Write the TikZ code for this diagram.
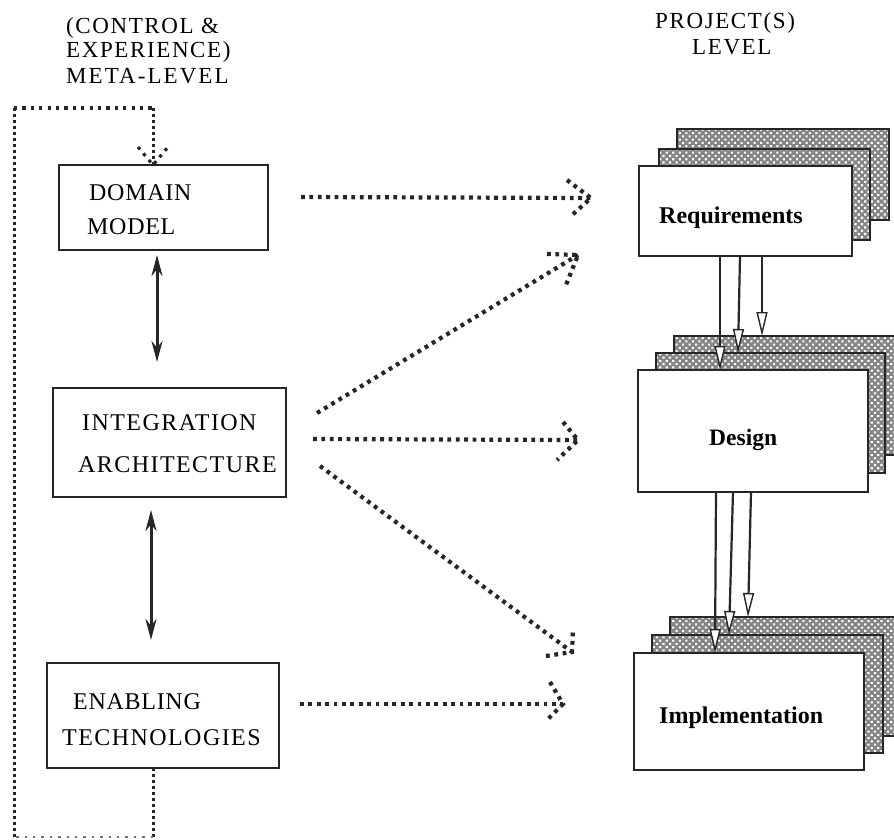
\documentclass[tikz,border=0pt]{standalone}
\usepackage{fontspec}
\setmainfont{Liberation Serif}
\usetikzlibrary{arrows.meta,patterns.meta,calc}
\tikzset{
  metabox/.style 2 args={draw=black!85,line width=1.8pt,fill=white,inner sep=0pt,outer sep=0pt,anchor=north west,minimum width=#1,minimum height=#2},
  sheet/.style 2 args={metabox={#1}{#2},preaction={fill=black!48},pattern={Dots[distance=4.6pt,radius=1.5pt,angle=45]},pattern color=white},
  front/.style 2 args={metabox={#1}{#2},line width=2pt},
  head/.style={inner sep=0pt,anchor=west,font=\fontsize{23}{25}\selectfont\addfontfeatures{LetterSpace=7}},
  boxtext/.style={inner sep=0pt,anchor=west,font=\fontsize{24}{26}\selectfont\addfontfeatures{LetterSpace=3}},
  boxwide/.style={inner sep=0pt,anchor=west,font=\fontsize{24}{26}\selectfont\addfontfeatures{LetterSpace=6}},
  sheettext/.style={inner sep=0pt,anchor=west,font=\fontsize{24}{26}\selectfont\bfseries},
  flow/.style={draw=black!85,line width=2.2pt,-{Triangle[open,fill=white,length=24pt,width=11pt,line width=1.4pt]}},
  dual/.style={draw=black!85,line width=3pt,{Stealth[length=21pt,width=11pt]}-{Stealth[length=21pt,width=11pt]}},
  dotline/.style={draw=black!85,line width=4.2pt,dash pattern=on 3.8pt off 4.6pt},
  loophoriz/.style={draw=black!85,line width=3.2pt,dash pattern=on 3.2pt off 5.2pt},
  loopvert/.style={draw=black!85,line width=3pt,dash pattern=on 3pt off 3pt},
  loopfaint/.style={draw=black!55,line width=2pt,dash pattern=on 2.5pt off 5.9pt}
}
\begin{document}
\begin{tikzpicture}[x=1pt,y=-1pt]
\clip (0,0) rectangle (894,839);
\fill[white] (0,0) rectangle (894,839);

% column headings
\node[head] (h1) at (66,28) {(CONTROL \&};
\node[head] (h2) at (66,52) {EXPERIENCE)};
\node[head,font=\fontsize{23}{25}\selectfont\addfontfeatures{LetterSpace=9}] (h3) at (66,76) {META-LEVEL};
\node[head] (h4) at (655,23) {PROJECT(S)};
\node[head] (h5) at (692,47) {LEVEL};

% meta-level boxes
\node[metabox={209pt}{85pt}] (dom) at (59,165) {};
\node[metabox={233pt}{109pt}] (int) at (53,388) {};
\node[metabox={232pt}{105pt}] (ena) at (47,663) {};
\node[boxtext] (t1) at (89,193) {DOMAIN};
\node[boxtext] (t2) at (87,227) {MODEL};
\node[boxwide] (t3) at (82,423) {INTEGRATION};
\node[boxwide] (t4) at (78,465) {ARCHITECTURE};
\node[boxtext] (t5) at (73,702) {ENABLING};
\node[boxwide] (t6) at (62,738) {TECHNOLOGIES};

% requirement sheets
\node[sheet={212pt}{91pt}] (rc) at (677,129) {};
\node[sheet={211pt}{91pt}] (rb) at (659,149) {};
\node[front={213pt}{90pt}] (ra) at (639,166) {};
\node[sheettext] (t7) at (659,218) {Requirements};
% design sheets
\node[sheet={240pt}{119pt}] (dc) at (674,336) {};
\node[sheet={229pt}{120pt}] (db) at (656,353) {};
\node[front={230pt}{122pt}] (da) at (638,370) {};
\node[sheettext,font=\fontsize{23.5}{26}\selectfont\bfseries] (t8) at (709,440) {Design};
% implementation sheets
\node[sheet={240pt}{119pt}] (ic) at (670,617) {};
\node[sheet={231pt}{118pt}] (ib) at (652,635) {};
\node[front={230pt}{117pt}] (ia) at (634,653) {};
\node[sheettext] (t9) at (659,718) {Implementation};

% solid flows between project levels
\draw[flow] ([xshift=81pt]ra.south west) -- ([xshift=82pt]da.north west);
\draw[flow] ([xshift=101pt]ra.south west) -- ([xshift=82pt]db.north west);
\draw[flow] ([xshift=123pt]ra.south west) -- ([xshift=88pt]dc.north west);
\draw[flow] ([xshift=78pt]da.south west) -- ([xshift=81pt]ia.north west);
\draw[flow] ([xshift=95pt]da.south west) -- ([xshift=77pt]ib.north west);
\draw[flow] ([xshift=113pt]da.south west) -- ([xshift=78pt]ic.north west);

% double arrows on the meta level
\draw[dual] ([xshift=98pt,yshift=-5pt]dom.south west) -- ([xshift=104pt,yshift=26pt]int.north west);
\draw[dual] ([xshift=98pt,yshift=-13pt]int.south west) -- ([xshift=104pt,yshift=23pt]ena.north west);

% dotted arrows
\foreach \sx/\sy/\ex/\ey/\ax/\ay/\bx/\by/\nm in {
  301/197/591/198/567/180/571/216/a,
  317/413/578/255/547/254/566/285/b,
  313/439/578/440/563/422/557/460/c,
  320/466/572/652/546/656/573/628/d,
  300/704/563/704/550/682/547/720/e}{
  \coordinate (s\nm) at (\sx,\sy);
  \coordinate (e\nm) at (\ex,\ey);
  \coordinate (p\nm) at (\ax,\ay);
  \coordinate (q\nm) at (\bx,\by);
  \draw[dotline] (s\nm) -- (e\nm);
  \draw[dotline] (p\nm) -- (e\nm) -- (q\nm);
}

% feedback loop
\coordinate (f1) at (153,837);
\coordinate (f2) at (14,837);
\coordinate (f3) at (14,108);
\coordinate (f4) at (153,108);
\coordinate (b1) at (138,147);
\coordinate (b2) at (168,147);
\draw[loopvert] (ena.south -| f1) -- (f1);
\draw[loopfaint] (f1) -- (f2);
\draw[loopvert] (f2) -- (f3);
\draw[loophoriz] (f3) -- (f4);
\draw[loopvert] (f4) -- (dom.north -| f4);
\draw[loophoriz] (b1) -- (dom.north -| f4) -- (b2);
\end{tikzpicture}
\end{document}
